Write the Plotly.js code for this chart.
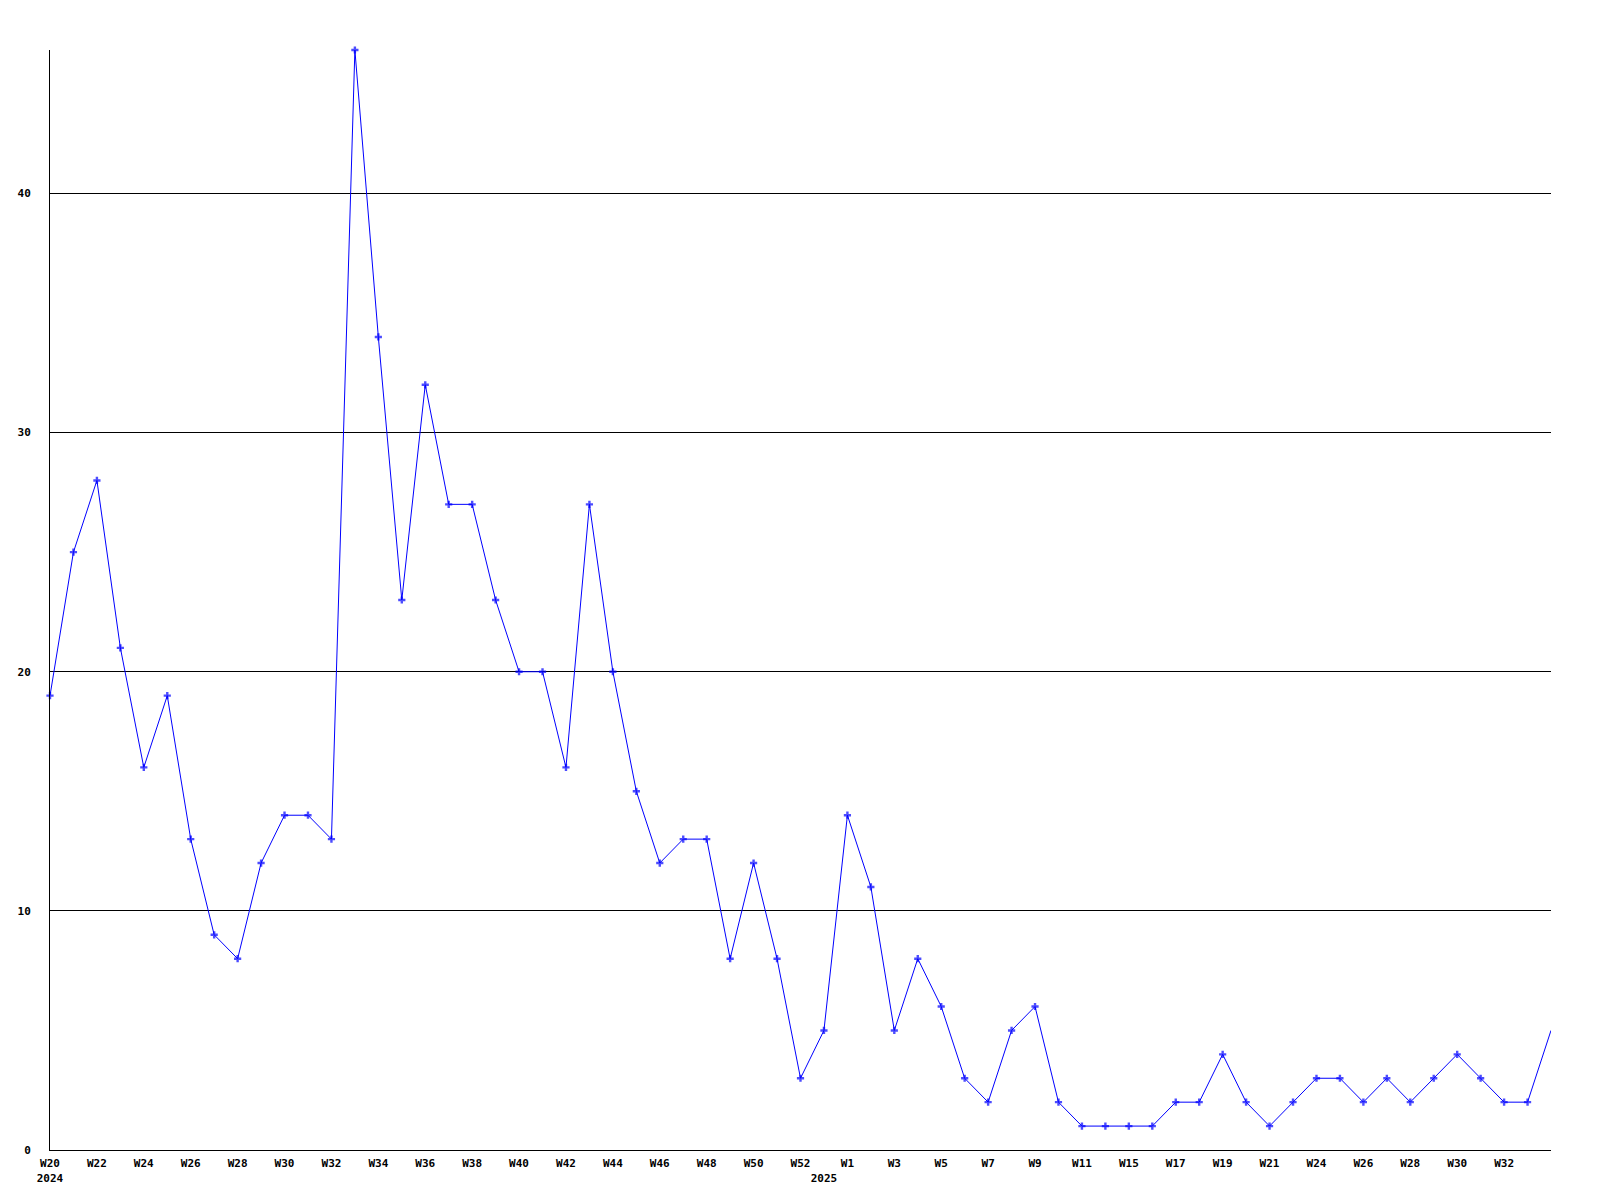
<!DOCTYPE html>
<html>
<head>
<meta charset="utf-8">
<script src="https://cdn.plot.ly/plotly-3.0.1.min.js"></script>
<style>html,body{margin:0;padding:0;background:#fff;}</style>
</head>
<body>
<div id="chart" style="width:1600px;height:1200px;"></div>
<script>
// Year of each weekly point
var years = [
  2024,2024,2024,2024,2024,2024,2024,2024,2024,2024,2024,2024,2024,2024,2024,2024,2024,
  2024,2024,2024,2024,2024,2024,2024,2024,2024,2024,2024,2024,2024,2024,2024,2024,
  2025,2025,2025,2025,2025,2025,2025,2025,2025,2025,2025,2025,
  2025,2025,2025,2025,2025,2025,2025,2025,2025,
  2025,2025,2025,2025,2025,2025,2025,2025,2025,2025,2025
];
// Week number of each point
var weeks = [
  20,21,22,23,24,25,26,27,28,29,30,31,32,33,34,35,36,
  37,38,39,40,41,42,43,44,45,46,47,48,49,50,51,52,
  0,1,2,3,4,5,6,7,8,9,10,11,
  13,15,16,17,18,19,20,21,23,
  24,25,26,27,28,29,30,31,32,33,34
];
// Weekly counts
var counts = [
  19,25,28,21,16,19,13,9,8,12,14,14,13,46,34,23,32,
  27,27,23,20,20,16,27,20,15,12,13,13,8,12,8,3,
  5,14,11,5,8,6,3,2,5,6,2,1,
  1,1,1,2,2,4,2,1,2,
  3,3,2,3,2,3,4,3,2,2,5
];
var yTicks = [0,10,20,30,40];

var cats = years.map(function(y,i){ return y + '-W' + weeks[i]; });
var tickvals = [], ticktext = [];
for (var i = 0; i < cats.length; i++) {
  var firstOfYear = (i === 0) || (years[i] !== years[i-1]);
  if (i % 2 === 0 && i < cats.length - 1) {
    tickvals.push(cats[i]);
    ticktext.push('W' + weeks[i] + (firstOfYear ? '<br>' + years[i] : ''));
  } else if (firstOfYear) {
    tickvals.push(cats[i]);
    ticktext.push(' <br>' + years[i]);
  }
}
var sizes = counts.map(function(v,i){ return i === counts.length - 1 ? 0 : 6; });

var trace = {
  type: 'scatter',
  mode: 'lines+markers',
  x: cats,
  y: counts,
  cliponaxis: false,
  line: {color: '#0000ff', width: 1},
  marker: {color: '#0000ff', symbol: 'cross', size: sizes, line: {width: 0}},
  hoverinfo: 'x+y'
};

var tickFont = {family: 'DejaVu Sans Mono, monospace', size: 11, color: '#000', weight: 'bold'};

var layout = {
  width: 1600, height: 1200,
  margin: {l: 50, r: 49, t: 50, b: 50},
  paper_bgcolor: '#fff', plot_bgcolor: '#fff',
  showlegend: false,
  xaxis: {
    type: 'category',
    range: [0, cats.length - 1],
    tickmode: 'array',
    tickvals: tickvals,
    ticktext: ticktext,
    tickangle: 0,
    ticks: '',
    showgrid: false,
    zeroline: false,
    showline: true,
    linecolor: '#000',
    linewidth: 1,
    tickfont: tickFont,
    ticklabelstandoff: 3,
    fixedrange: true
  },
  yaxis: {
    range: [0, 46],
    tickmode: 'array',
    tickvals: yTicks,
    ticktext: yTicks.map(String),
    ticks: '',
    showgrid: true,
    gridcolor: '#000',
    gridwidth: 1,
    zeroline: false,
    showline: true,
    linecolor: '#000',
    linewidth: 1,
    tickfont: tickFont,
    ticklabelstandoff: 16,
    fixedrange: true
  }
};

Plotly.newPlot('chart', [trace], layout, {staticPlot: true, displayModeBar: false});
</script>
</body>
</html>
